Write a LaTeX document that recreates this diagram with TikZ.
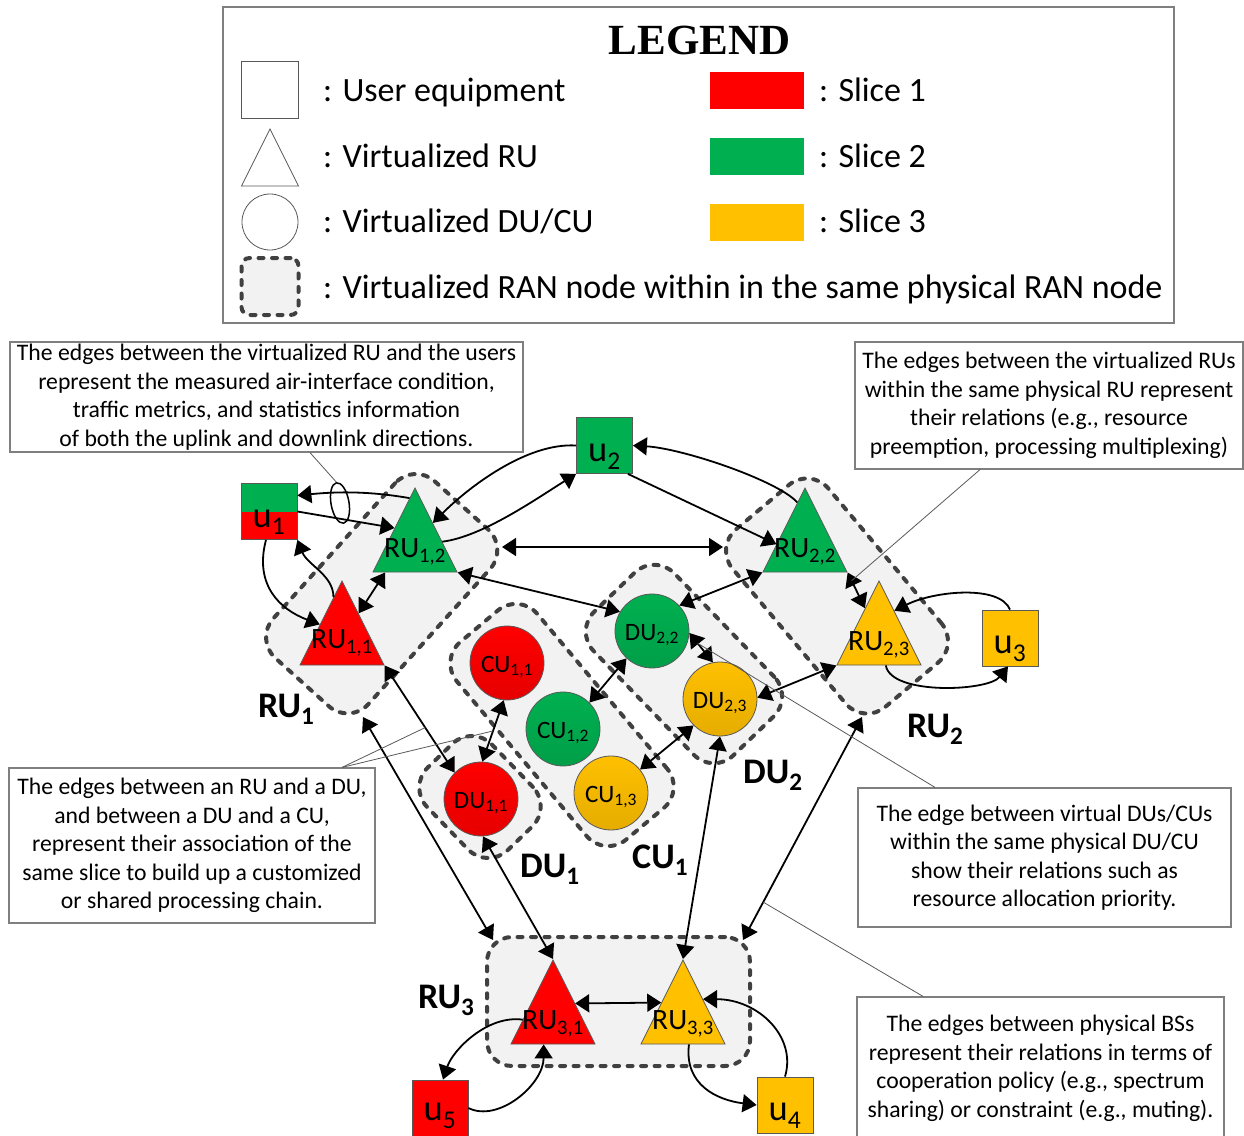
\documentclass[tikz,border=0pt]{standalone}
\usepackage{fontspec}
\setmainfont{Carlito}
\newfontfamily\titlefont{Liberation Serif}
\usetikzlibrary{arrows.meta,shapes.geometric,calc}
\definecolor{slicered}{HTML}{FF0000}
\definecolor{slicegreen}{HTML}{00B050}
\definecolor{sliceyellow}{HTML}{FFC000}
\definecolor{grpfill}{HTML}{F2F2F2}
\definecolor{grpline}{HTML}{404040}
\definecolor{shapeline}{HTML}{595959}
\definecolor{boxline}{HTML}{7F7F7F}
\definecolor{leaderline}{HTML}{595959}
\begin{document}
\begin{tikzpicture}[x=1pt,y=-1pt,
  >={Triangle[length=14pt,width=18pt]},
  grpbg/.style={fill=grpfill, rounded corners=28pt, inner sep=0pt, outer sep=0pt},
  grp/.style={draw=grpline, line width=4pt, dash pattern=on 5pt off 8.5pt, line cap=round, rounded corners=28pt, inner sep=0pt, outer sep=0pt},
  tri/.style={isosceles triangle, isosceles triangle stretches, shape border rotate=90, minimum width=84, minimum height=84, inner sep=0pt, draw=shapeline, line width=0.8pt},
  trilbl/.style={anchor=base, inner sep=0pt, font=\fontsize{29.5}{30}\selectfont},
  circ/.style={circle, draw=shapeline, line width=0.8pt, minimum size=74, inner sep=0pt, font=\fontsize{25}{26}\selectfont, text height=18, text depth=0},
  ball/.style={top color=#1, bottom color=#1!90!black},
  ue/.style={rectangle, draw=shapeline, line width=0.8pt, minimum size=56, inner sep=0pt, font=\fontsize{36.5}{38}\selectfont, text height=31, text depth=0},
  biglbl/.style={anchor=base west, inner sep=0pt, font=\bfseries\fontsize{36}{38}\selectfont},
  note/.style={draw=boxline, line width=1.2pt, align=center, inner sep=0pt, font=\fontsize{23.7}{28.5}\selectfont},
  legtext/.style={anchor=base west, inner sep=0pt, font=\fontsize{34}{40}\selectfont},
  swatch/.style={minimum width=94, minimum height=37, inner sep=0pt},
  link/.style={draw=black, line width=1.8pt},
  leader/.style={draw=leaderline, line width=0.8pt}
]
\useasboundingbox (0,0) rectangle (1244,1135);

% ---------------- legend ----------------
\node[draw=boxline, line width=1.3pt, minimum width=951, minimum height=316, inner sep=0pt] (legend) at (698.5,165) {};
\node[anchor=base, inner sep=0pt, font=\titlefont\bfseries\fontsize{43}{45}\selectfont] (legtitle) at (699.5,54) {LEGEND};
\node[ue, fill=white, minimum size=57] (lgue) at (269.5,90) {};
\node[tri, fill=white, anchor=apex, minimum width=57, minimum height=57] (lgru) at (270,128) {};
\node[circ, fill=white, minimum size=56] (lgdu) at (270,222) {};
\node[grpbg, minimum width=57, minimum height=57, rounded corners=8pt] at (270,286.5) {};
\node[grp, minimum width=57, minimum height=57, rounded corners=8pt] (lgran) at (270,286.5) {};
\node[legtext] (lgt1) at (323,101) {: User equipment};
\node[legtext] (lgt2) at (323,167) {: Virtualized RU};
\node[legtext] (lgt3) at (323,232) {: Virtualized DU/CU};
\node[legtext] (lgt4) at (323,298) {: Virtualized RAN node within in the same physical RAN node};
\node[swatch, fill=slicered] (sw1) at (757,90) {};
\node[swatch, fill=slicegreen] (sw2) at (757,156) {};
\node[swatch, fill=sliceyellow] (sw3) at (757,222) {};
\node[legtext] (lgs1) at (819,101) {: Slice 1};
\node[legtext] (lgs2) at (819,167) {: Slice 2};
\node[legtext] (lgs3) at (819,232) {: Slice 3};

% ---------------- explanatory notes ----------------
\node[note, minimum width=513, minimum height=110] (ann1) at (266.5,397) {The edges between the virtualized RU and the users\\ represent the measured air-interface condition,\\ traffic metrics, and statistics information\\ of both the uplink and downlink directions.};
\node[note, minimum width=388, minimum height=127] (ann2) at (1049,405.5) {The edges between the virtualized RUs\\ within the same physical RU represent\\ their relations (e.g., resource\\ preemption, processing multiplexing)};
\node[note, minimum width=366, minimum height=155] (ann3) at (192,845.5) {The edges between an RU and a DU,\\ and between a DU and a CU,\\ represent their association of the\\ same slice to build up a customized\\ or shared processing chain.};
\node[note, minimum width=373, minimum height=139] (ann4) at (1044.5,857.5) {The edge between virtual DUs/CUs\\ within the same physical DU/CU\\ show their relations such as\\ resource allocation priority.};
\node[note, minimum width=367, minimum height=143] (ann5) at (1040.5,1068.5) {The edges between physical BSs\\ represent their relations in terms of\\ cooperation policy (e.g., spectrum\\ sharing) or constraint (e.g., muting).};

% ---------------- physical RAN nodes (groups) ----------------
\node[grpbg, minimum width=238, minimum height=128, rotate=48] at (381.7,593.7) {};
\node[grpbg, minimum width=258, minimum height=105, rotate=-50] at (562,725) {};
\node[grpbg, minimum width=115, minimum height=90, rotate=-46] at (480,797) {};
\node[grpbg, minimum width=200, minimum height=112, rotate=-46] at (684,664) {};
\node[grpbg, minimum width=232, minimum height=125, rotate=-50] at (837,596) {};
\node[grpbg, minimum width=263, minimum height=129, rounded corners=25pt] at (618.5,1001.5) {};
\node[grp, minimum width=238, minimum height=128, rotate=48] (RU1g) at (381.7,593.7) {};
\node[grp, minimum width=258, minimum height=105, rotate=-50] (CU1g) at (562,725) {};
\node[grp, minimum width=115, minimum height=90, rotate=-46] (DU1g) at (480,797) {};
\node[grp, minimum width=200, minimum height=112, rotate=-46] (DU2g) at (684,664) {};
\node[grp, minimum width=232, minimum height=125, rotate=-50] (RU2g) at (837,596) {};
\node[grp, minimum width=263, minimum height=129, rounded corners=25pt] (RU3g) at (618.5,1001.5) {};

\node[biglbl] (nRU1) at (258,717) {RU\textsubscript{1}};
\node[biglbl] (nRU2) at (907,737) {RU\textsubscript{2}};
\node[biglbl] (nRU3) at (418,1008) {RU\textsubscript{3}};
\node[biglbl] (nDU1) at (520,877) {DU\textsubscript{1}};
\node[biglbl] (nDU2) at (743,783) {DU\textsubscript{2}};
\node[biglbl] (nCU1) at (632,868) {CU\textsubscript{1}};

% ---------------- virtualized RUs ----------------
\node[tri, fill=slicegreen, anchor=apex] (RU12) at (415,487) {};
\node[tri, fill=slicered, anchor=apex] (RU11) at (342,580) {};
\node[tri, fill=slicegreen, anchor=apex] (RU22) at (805,487) {};
\node[tri, fill=sliceyellow, anchor=apex] (RU23) at (879,580) {};
\node[tri, fill=slicered, anchor=apex] (RU31) at (553,959) {};
\node[tri, fill=sliceyellow, anchor=apex] (RU33) at (683,959) {};
\node[trilbl] at ($(RU12.left corner)!0.5!(RU12.right corner)+(0,-15)$) {RU\textsubscript{1,2}};
\node[trilbl] at ($(RU11.left corner)!0.5!(RU11.right corner)+(0,-17)$) {RU\textsubscript{1,1}};
\node[trilbl] at ($(RU22.left corner)!0.5!(RU22.right corner)+(0,-15)$) {RU\textsubscript{2,2}};
\node[trilbl] at ($(RU23.left corner)!0.5!(RU23.right corner)+(0,-15)$) {RU\textsubscript{2,3}};
\node[trilbl] at ($(RU31.left corner)!0.5!(RU31.right corner)+(0,-15)$) {RU\textsubscript{3,1}};
\node[trilbl] at ($(RU33.left corner)!0.5!(RU33.right corner)+(0,-15)$) {RU\textsubscript{3,3}};

% ---------------- virtualized DUs / CUs ----------------
\node[circ, ball=slicered] (CU11) at (507,663) {CU\textsubscript{1,1}};
\node[circ, ball=slicegreen] (CU12) at (563,729) {CU\textsubscript{1,2}};
\node[circ, ball=sliceyellow] (CU13) at (611,793) {CU\textsubscript{1,3}};
\node[circ, ball=slicered] (DU11) at (481,799) {DU\textsubscript{1,1}};
\node[circ, ball=slicegreen] (DU22) at (652,631) {DU\textsubscript{2,2}};
\node[circ, ball=sliceyellow] (DU23) at (720,699) {DU\textsubscript{2,3}};

% ---------------- user equipment ----------------
\node[ue, path picture={
    \fill[slicered] (path picture bounding box.south west) rectangle (path picture bounding box.east);
    \fill[slicegreen] (path picture bounding box.west) rectangle (path picture bounding box.north east);}] (u1) at (269,511.5) {u\textsubscript{1}};
\node[ue, fill=slicegreen] (u2) at (604.5,445.5) {u\textsubscript{2}};
\node[ue, fill=sliceyellow] (u3) at (1010,638) {u\textsubscript{3}};
\node[ue, fill=sliceyellow] (u4) at (785,1105) {u\textsubscript{4}};
\node[ue, fill=slicered, text height=25] (u5) at (440,1108) {u\textsubscript{5}};

\node[draw=black, line width=1.5pt, ellipse, minimum width=18, minimum height=41, inner sep=0pt, rotate=10] (ell) at (340,503) {};

% ---------------- RU -- user links ----------------
\draw[link,->] ($(RU12.apex)!0.13!(RU12.left corner)$) .. controls +(-40,-7) and +(40,-4) .. ($(u1.east)+(0,-16)$);
\draw[link,->] (u1.east) -- ($(RU12.apex)!0.48!(RU12.left corner)$);
\draw[link,->] ($(u1.south)+(-3,0)$) .. controls +(-12,45) and +(-40,-15) .. ($(RU11.apex)!0.52!(RU11.left corner)$);
\draw[link,->] ($(RU11.apex)!0.2!(RU11.left corner)$) .. controls +(0,-22) and +(10,25) .. (u1.south east);
\draw[link,->] ($(RU12.apex)!0.64!(RU12.right corner)$) .. controls +(40,-5) and +(-40,25) .. (u2.south west);
\draw[link,->] (u2.west) .. controls +(-50,-3) and +(35,-35) .. ($(RU12.apex)!0.42!(RU12.right corner)$);
\draw[link,->] ($(u2.south east)+(-5,0)$) -- ($(RU22.apex)!0.67!(RU22.left corner)$);
\draw[link,->] ($(RU22.apex)!0.18!(RU22.left corner)$) .. controls +(-20,-22) and +(50,3) .. (u2.east);
\draw[link,->] (u3.north) .. controls +(-10,-25) and +(40,-20) .. ($(RU23.apex)!0.36!(RU23.right corner)$);
\draw[link,->] ($(RU23.left corner)!0.58!(RU23.right corner)$) .. controls +(5,30) and +(-20,25) .. ($(u3.south)+(-2,0)$);
\draw[link,->] ($(RU31.apex)!0.71!(RU31.left corner)$) .. controls +(-35,-5) and +(10,-30) .. ($(u5.north)+(3,0)$);
\draw[link,->] (u5.east) .. controls +(30,15) and +(0,40) .. ($(RU31.left corner)!0.39!(RU31.right corner)$);
\draw[link,->] ($(RU33.left corner)!0.57!(RU33.right corner)$) .. controls +(-5,40) and +(-40,-5) .. (u4.west);
\draw[link,->] (u4.north) .. controls +(12,-40) and +(55,0) .. ($(RU33.apex)!0.47!(RU33.right corner)$);

% ---------------- links inside and between RAN nodes ----------------
\draw[link,<->] ($(RU11.apex)!0.39!(RU11.right corner)$) -- ($(RU12.left corner)!0.15!(RU12.right corner)$);
\draw[link,<->] (RU22.right corner) -- coordinate[pos=0.23] (e17) ($(RU23.apex)!0.33!(RU23.left corner)$);
\draw[link,<->] ($(RU31.apex)!0.52!(RU31.right corner)$) -- ($(RU33.apex)!0.51!(RU33.left corner)$);
\draw[link,<->] (DU22.43) -- (RU22.left corner);
\draw[link,<->] (RU12.right corner) -- (DU22.149);
\draw[link,<->] (DU22.227) -- (CU12.45);
\draw[link,<->] (DU22.-3) -- coordinate[pos=0.35] (e14) (DU23.101);
\draw[link,<->] (DU23.225) -- (CU13.39);
\draw[link,<->] (DU23.2) -- (RU23.left corner);
\draw[link,<->] (RU11.right corner) -- coordinate[pos=0.58] (e20) (DU11.135);
\draw[link,<->] (CU11.-95) -- coordinate[pos=0.5] (e23) (DU11.88);
\draw[link,<->] (DU11.-87) -- (RU31.apex);
\draw[link,<->] (DU23.-90) -- (RU33.apex);
\draw[link,<->] ($(RU1g)+(120.3,-46.7)$) -- ($(RU2g)+(-114,-49)$);
\draw[link,<->] ($(RU1g)+(-18.7,123.3)$) -- ($(RU3g)+(-125.5,-61.5)$);
\draw[link,<->] ($(RU2g)+(25,121)$) -- coordinate[pos=0.83] (e25) ($(RU3g)+(124.5,-61.5)$);

% ---------------- note pointers ----------------
\draw[leader] ($(ann1.south)+(43.5,0)$) -- (ell.north);
\draw[leader] ($(ann2.south)+(-69,0)$) -- (e17);
\draw[leader] ($(ann3.north)+(150,0)$) -- (e20);
\draw[leader] ($(ann3.north)+(150,0)$) -- (e23);
\draw[leader] ($(ann4.north)+(-109.5,0)$) -- (e14);
\draw[leader] ($(ann5.north)+(-117.5,0)$) -- (e25);
\end{tikzpicture}
\end{document}
